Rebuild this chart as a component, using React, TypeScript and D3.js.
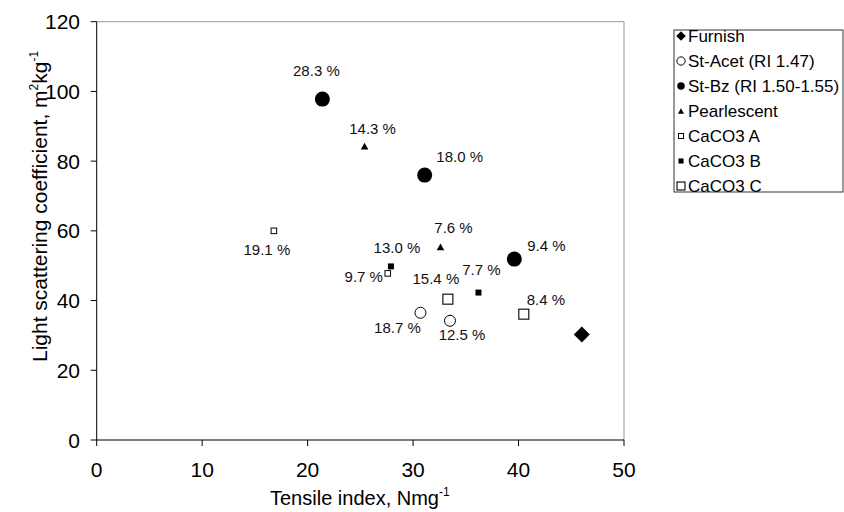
import React from "react";
import * as d3 from "d3";

// ---- data ----
const seriesNames = ["Furnish", "St-Acet (RI 1.47)", "St-Bz (RI 1.50-1.55)", "Pearlescent", "CaCO3 A", "CaCO3 B", "CaCO3 C"];

const furnishX = [46];
const furnishY = [30.3];
const furnishLabels = [""];

const stAcetX = [30.7, 33.5];
const stAcetY = [36.5, 34.2];
const stAcetLabels = ["18.7 %", "12.5 %"];

const stBzX = [21.4, 31.1, 39.6];
const stBzY = [97.8, 76.0, 51.9];
const stBzLabels = ["28.3 %", "18.0 %", "9.4 %"];

const pearlX = [25.4, 32.6];
const pearlY = [84.3, 55.4];
const pearlLabels = ["14.3 %", "7.6 %"];

const caco3AX = [16.8, 27.6];
const caco3AY = [60.0, 47.8];
const caco3ALabels = ["19.1 %", "9.7 %"];

const caco3BX = [27.9, 36.2];
const caco3BY = [49.8, 42.3];
const caco3BLabels = ["13.0 %", "7.7 %"];

const caco3CX = [33.3, 40.5];
const caco3CY = [40.4, 36.1];
const caco3CLabels = ["15.4 %", "8.4 %"];

const xTicks = [0, 10, 20, 30, 40, 50];
const yTicks = [0, 20, 40, 60, 80, 100, 120];

// ---- layout (label offsets in px, relative to the point) ----
const labelOffsets: Record<string, [number, number][]> = {
  furnish: [[0, 0]],
  stAcet: [[-23, 15], [12, 14]],
  stBz: [[-6, -28], [35, -18], [32, -13]],
  pearl: [[8, -18], [13, -19]],
  caco3A: [[-7, 19], [-24, 3]],
  caco3B: [[6, -19], [3, -23]],
  caco3C: [[-12, -21], [22, -15]],
};

const W = 844, H = 512;
const M = { left: 96.7, right: 624, top: 21.7, bottom: 440 };

type Kind = "diamond" | "ocircle" | "fcircle" | "triangle" | "osqSmall" | "fsq" | "osqBig";

function Marker({ kind, x, y, s = 1 }: { kind: Kind; x: number; y: number; s?: number }) {
  switch (kind) {
    case "diamond": {
      const r = 8 * s;
      return <path d={`M${x},${y - r}L${x + r},${y}L${x},${y + r}L${x - r},${y}Z`} fill="#000" />;
    }
    case "ocircle":
      return <circle cx={x} cy={y} r={5.5 * s} fill="#fff" stroke="#000" strokeWidth={1} />;
    case "fcircle":
      return <circle cx={x} cy={y} r={7.5 * s} fill="#000" />;
    case "triangle": {
      const w = 3.8 * s, h = 3.4 * s;
      return <path d={`M${x},${y - h}L${x + w},${y + h}L${x - w},${y + h}Z`} fill="#000" />;
    }
    case "osqSmall": {
      const a = 2.8 * s;
      return <rect x={x - a} y={y - a} width={2 * a} height={2 * a} fill="#fff" stroke="#000" strokeWidth={1} />;
    }
    case "fsq": {
      const a = 3 * s;
      return <rect x={x - a} y={y - a} width={2 * a} height={2 * a} fill="#000" />;
    }
    case "osqBig": {
      const a = 5 * s;
      return <rect x={x - a} y={y - a} width={2 * a} height={2 * a} fill="#fff" stroke="#000" strokeWidth={1.1} />;
    }
  }
  return null;
}

export default function App() {
  const x = d3.scaleLinear().domain([0, 50]).range([M.left, M.right]);
  const y = d3.scaleLinear().domain([0, 120]).range([M.bottom, M.top]);

  const series = [
    { key: "furnish", kind: "diamond" as Kind, xs: furnishX, ys: furnishY, labels: furnishLabels, ls: 0.6 },
    { key: "stAcet", kind: "ocircle" as Kind, xs: stAcetX, ys: stAcetY, labels: stAcetLabels, ls: 0.75 },
    { key: "stBz", kind: "fcircle" as Kind, xs: stBzX, ys: stBzY, labels: stBzLabels, ls: 0.5 },
    { key: "pearl", kind: "triangle" as Kind, xs: pearlX, ys: pearlY, labels: pearlLabels, ls: 0.8 },
    { key: "caco3A", kind: "osqSmall" as Kind, xs: caco3AX, ys: caco3AY, labels: caco3ALabels, ls: 0.9 },
    { key: "caco3B", kind: "fsq" as Kind, xs: caco3BX, ys: caco3BY, labels: caco3BLabels, ls: 0.85 },
    { key: "caco3C", kind: "osqBig" as Kind, xs: caco3CX, ys: caco3CY, labels: caco3CLabels, ls: 0.8 },
  ];

  const font = "'Liberation Sans', Arial, sans-serif";
  const legend = { x: 674, y: 30, w: 169, h: 162, rowY0: 36, rowStep: 25, markerX: 681, textX: 688 };

  return (
    <svg width={W} height={H} style={{ position: "absolute", left: 0, top: 0, background: "#fff" }} fontFamily={font}>
      <rect x={0} y={0} width={W} height={H} fill="#fff" />
      {/* plot border (gray top/right) */}
      <line x1={M.left} y1={M.top} x2={M.right} y2={M.top} stroke="#999" strokeWidth={1} />
      <line x1={M.right} y1={M.top} x2={M.right} y2={M.bottom} stroke="#999" strokeWidth={1} />
      {/* axes */}
      <line x1={M.left} y1={M.top} x2={M.left} y2={M.bottom} stroke="#000" strokeWidth={1} />
      <line x1={M.left} y1={M.bottom} x2={M.right} y2={M.bottom} stroke="#000" strokeWidth={1} />
      {xTicks.map((t) => (
        <g key={"xt" + t}>
          <line x1={x(t)} x2={x(t)} y1={M.bottom} y2={M.bottom + 6} stroke="#000" />
          <text x={x(t)} y={477} textAnchor="middle" fontSize={21} fill="#000">{t}</text>
        </g>
      ))}
      {yTicks.map((t) => (
        <g key={"yt" + t}>
          <line x1={M.left - 6} x2={M.left} y1={y(t)} y2={y(t)} stroke="#000" />
          <text x={80} y={y(t)} dy="0.36em" textAnchor="end" fontSize={21} fill="#000">{t}</text>
        </g>
      ))}
      {/* axis titles */}
      <text x={270} y={505} fontSize={20} fill="#000">
        Tensile index, Nmg<tspan dy={-9} fontSize={12}>-1</tspan>
      </text>
      <text transform={`translate(47,362) rotate(-90)`} fontSize={21} fill="#000">
        Light scattering coefficient, m<tspan dy={-9} fontSize={12}>2</tspan>
        <tspan dy={9}>kg</tspan>
        <tspan dy={-9} fontSize={12}>-1</tspan>
      </text>
      {/* points */}
      {series.map((s) =>
        s.xs.map((v, i) => (
          <g key={s.key + i}>
            <Marker kind={s.kind} x={x(v)} y={y(s.ys[i])} />
          </g>
        ))
      )}
      {/* point labels */}
      {series.map((s) =>
        s.labels.map((lab, i) =>
          lab ? (
            <text
              key={s.key + "l" + i}
              x={x(s.xs[i]) + labelOffsets[s.key][i][0]}
              y={y(s.ys[i]) + labelOffsets[s.key][i][1]}
              dy="0.36em"
              textAnchor="middle"
              fontSize={15}
              fill="#111"
            >
              {lab}
            </text>
          ) : null
        )
      )}
      {/* legend */}
      <rect x={legend.x} y={legend.y} width={legend.w} height={legend.h} fill="#fff" stroke="#333" strokeWidth={1} />
      {series.map((s, i) => {
        const yy = legend.rowY0 + i * legend.rowStep;
        return (
          <g key={"lg" + s.key}>
            <Marker kind={s.kind} x={legend.markerX} y={yy} s={s.ls} />
            <text x={legend.textX} y={yy} dy="0.36em" fontSize={17} fill="#000">{seriesNames[i]}</text>
          </g>
        );
      })}
    </svg>
  );
}
